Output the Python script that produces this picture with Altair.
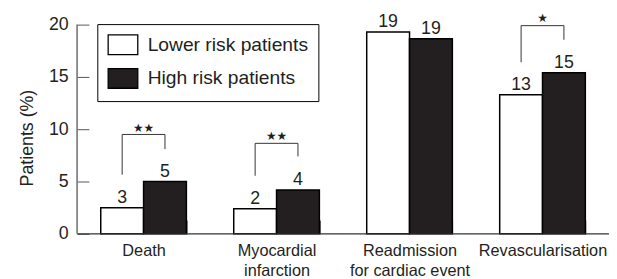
import altair as alt
import pandas as pd

categories = ["Death", "Myocardial\ninfarction", "Readmission\nfor cardiac event", "Revascularisation"]
groups = ["Lower risk patients", "High risk patients"]
lower_values = [2.5, 2.4, 19.3, 13.3]
high_values = [5.0, 4.2, 18.65, 15.4]
lower_labels = ["3", "2", "19", "13"]
high_labels = ["5", "4", "19", "15"]
y_ticks = [0, 5, 10, 15, 20]

bracket_categories = ["Death", "Myocardial\ninfarction", "Revascularisation"]
bracket_left_bottom = [5.65, 5.55, 16.4]
bracket_top = [9.5, 8.65, 19.9]
bracket_right_bottom = [8.1, 7.4, 18.55]
bracket_stars = ["\u2605\u2605", "\u2605\u2605", "\u2605"]
star_y = [10.15, 9.3, 20.65]

FONT = "Liberation Sans"
INK = "#231f20"
YTITLE = "Patients (%)"

rows = []
for c, lv, hv, ll, hl in zip(categories, lower_values, high_values, lower_labels, high_labels):
    rows.append({"cat": c, "group": groups[0], "value": lv, "label": ll})
    rows.append({"cat": c, "group": groups[1], "value": hv, "label": hl})
bars_df = pd.DataFrame(rows)

brow = []
for i, c in enumerate(bracket_categories):
    pts = [(groups[0], bracket_left_bottom[i]), (groups[0], bracket_top[i]),
           (groups[1], bracket_top[i]), (groups[1], bracket_right_bottom[i])]
    for k, (g, v) in enumerate(pts):
        brow.append({"cat": c, "group": g, "value": v, "order": k, "bracket": i})
br_df = pd.DataFrame(brow)

stars_df = pd.DataFrame({"cat": bracket_categories, "value": star_y, "stars": bracket_stars})

xscale = alt.Scale(domain=categories, paddingInner=0.356, paddingOuter=0.178)
yscale = alt.Scale(domain=[0, 20], nice=False)
xoff = alt.XOffset("group:N", sort=groups, scale=alt.Scale(domain=groups))

x_axis = alt.Axis(
    title=None, orient="bottom", offset=-14, tickSize=14, tickBand="extent",
    tickColor="#444", tickWidth=1, domain=False, labelAngle=0,
    labelFont=FONT, labelFontSize=16.5, labelColor=INK, labelPadding=9,
    labelLineHeight=20, labelBaseline="top",
    labelExpr="split(datum.label, '\\n')",
)
y_axis = alt.Axis(
    values=y_ticks, orient="left", offset=-12, tickSize=12, tickColor="#555",
    tickWidth=1, domain=False, grid=False,
    labelFont=FONT, labelFontSize=18, labelColor=INK, labelPadding=9,
    titleFont=FONT, titleFontSize=18, titleColor=INK, titleFontWeight="normal",
    titleX=-57, titleY=114.5, titleBaseline="alphabetic", titleAlign="center",
)

base = alt.Chart(bars_df)

bars = base.mark_bar(stroke="black", strokeWidth=1.5).encode(
    x=alt.X("cat:N", sort=categories, scale=xscale, axis=x_axis),
    xOffset=xoff,
    y=alt.Y("value:Q", scale=yscale, axis=y_axis, title=YTITLE),
    fill=alt.Fill(
        "group:N", sort=groups,
        scale=alt.Scale(domain=groups, range=["white", INK]),
        legend=alt.Legend(
            title=None, orient="none", legendX=20.5, legendY=-0.5,
            symbolType="M-1,-1H2V1H-1Z", symbolSize=400,
            symbolStrokeColor="black", symbolStrokeWidth=1.3, symbolOpacity=1,
            labelFont=FONT, labelFontSize=19.5, labelColor=INK, labelOffset=19,
            labelLimit=300,
            rowPadding=8, padding=10, strokeColor="black", fillColor="white",
        ),
    ),
)

labels = base.mark_text(font=FONT, fontSize=18, color=INK, baseline="alphabetic", dy=-5).encode(
    x=alt.X("cat:N", sort=categories, scale=xscale),
    xOffset=xoff,
    y=alt.Y("value:Q", scale=yscale, title=YTITLE),
    text="label:N",
)

brackets = alt.Chart(br_df).mark_line(color="#333", strokeWidth=1).encode(
    x=alt.X("cat:N", sort=categories, scale=xscale),
    xOffset=xoff,
    y=alt.Y("value:Q", scale=yscale, title=YTITLE),
    detail="bracket:N",
    order="order:Q",
)

stars = alt.Chart(stars_df).mark_text(font="DejaVu Sans", fontSize=12, color=INK, baseline="middle").encode(
    x=alt.X("cat:N", sort=categories, scale=xscale),
    y=alt.Y("value:Q", scale=yscale, title=YTITLE),
    text="stars:N",
)

axis_df = pd.DataFrame({"lo": [0], "hi": [20]})
xline = alt.Chart(axis_df).mark_rule(color="#333", strokeWidth=1.3).encode(
    y=alt.Y("lo:Q", scale=yscale, title=YTITLE),
)
yline = alt.Chart(axis_df).mark_rule(color="#555", strokeWidth=1.3).encode(
    x=alt.value(0),
    y=alt.Y("lo:Q", scale=yscale, title=YTITLE),
    y2="hi:Q",
)

chart = alt.layer(bars, labels, brackets, stars, xline, yline).properties(
    width=539, height=212,
    autosize=alt.AutoSizeParams(type="none"),
    padding={"left": 70, "top": 15, "right": 0, "bottom": 48},
).configure_view(stroke=None)

chart.save("out.html", embed_options={"renderer": "svg", "actions": False})
